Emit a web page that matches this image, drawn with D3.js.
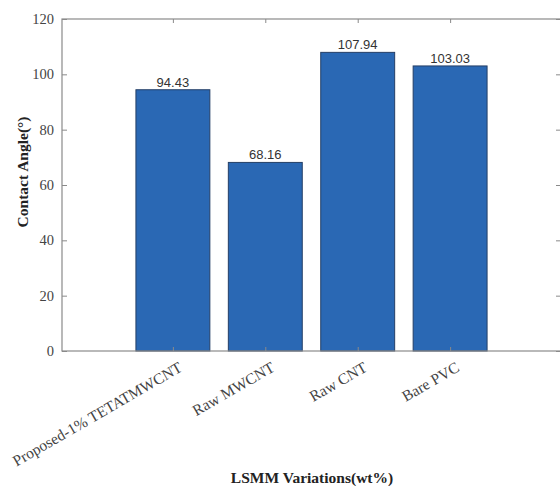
<!DOCTYPE html>
<html><head><meta charset="utf-8">
<script src="https://cdn.jsdelivr.net/npm/d3@7"></script>
<style>body{margin:0;background:#fff}svg{display:block}</style>
</head><body>
<svg id="c" width="560" height="486"></svg>
<script>
const categories = ["Proposed-1% TETATMWCNT", "Raw MWCNT", "Raw CNT", "Bare PVC"];
const values = [94.43, 68.16, 107.94, 103.03];
const valueLabels = ["94.43", "68.16", "107.94", "103.03"];
const yTicks = [0, 20, 40, 60, 80, 100, 120];

const svg = d3.select("#c");
const L = 62, R = 561, T = 19, B = 351;
const x = d3.scaleLinear().domain([-0.2, 5.2]).range([L, R]);
const y = d3.scaleLinear().domain([0, 120]).range([B, T]);
const bw = x(0.8) - x(0);
const axisColor = "#8a8a8a";

// bars
svg.append("g").selectAll("rect").data(values).join("rect")
  .attr("x", (d, i) => x(i + 1) - bw / 2)
  .attr("y", d => y(d))
  .attr("width", bw)
  .attr("height", d => y(0) - y(d))
  .attr("fill", "#2a68b4")
  .attr("stroke", "#243f66")
  .attr("stroke-width", 1);

// value labels
svg.append("g").selectAll("text").data(values).join("text")
  .attr("x", (d, i) => x(i + 1))
  .attr("y", d => y(d) - 3)
  .attr("text-anchor", "middle")
  .attr("font-family", "Liberation Sans, Arial, sans-serif")
  .attr("font-size", 13)
  .attr("fill", "#333")
  .text((d, i) => valueLabels[i]);

// box
svg.append("rect").attr("x", L).attr("y", T).attr("width", R - L).attr("height", B - T)
  .attr("fill", "none").attr("stroke", axisColor).attr("stroke-width", 1.2);

// y axis left
const yAxis = d3.axisLeft(y).tickValues(yTicks).tickSizeInner(-5).tickSizeOuter(0).tickPadding(8);
const gy = svg.append("g").attr("transform", `translate(${L},0)`).call(yAxis);
gy.select(".domain").remove();
gy.selectAll("line").attr("stroke", axisColor);
gy.selectAll("text").attr("font-family", "Liberation Serif, Times New Roman, serif")
  .attr("font-size", 14.5).attr("fill", "#444");

// y axis right ticks
const gyr = svg.append("g").attr("transform", `translate(${R},0)`)
  .call(d3.axisRight(y).tickValues(yTicks).tickSizeInner(-5).tickSizeOuter(0).tickFormat(""));
gyr.select(".domain").remove();
gyr.selectAll("line").attr("stroke", axisColor);

// x axis bottom/top ticks
const xt = categories.map((c, i) => i + 1);
const gx = svg.append("g").attr("transform", `translate(0,${B})`)
  .call(d3.axisBottom(x).tickValues(xt).tickSizeInner(-4).tickSizeOuter(0).tickFormat(""));
gx.select(".domain").remove();
gx.selectAll("line").attr("stroke", axisColor);
const gxt = svg.append("g").attr("transform", `translate(0,${T})`)
  .call(d3.axisTop(x).tickValues(xt).tickSizeInner(-4).tickSizeOuter(0).tickFormat(""));
gxt.select(".domain").remove();
gxt.selectAll("line").attr("stroke", axisColor);

// rotated category labels
svg.append("g").selectAll("text").data(categories).join("text")
  .attr("transform", (d, i) => `translate(${x(i + 1) + 5},${B + 10}) rotate(-30)`)
  .attr("text-anchor", "end")
  .attr("dy", "0.7em")
  .attr("font-family", "Liberation Serif, Times New Roman, serif")
  .attr("font-size", 15.5)
  .attr("fill", "#444")
  .text(d => d);

// axis titles
svg.append("text")
  .attr("transform", `translate(28,172) rotate(-90)`)
  .attr("text-anchor", "middle")
  .attr("font-family", "Liberation Serif, Times New Roman, serif")
  .attr("font-weight", "bold").attr("font-size", 15.5).attr("fill", "#222")
  .text("Contact Angle(°)");
svg.append("text")
  .attr("x", 312).attr("y", 483)
  .attr("text-anchor", "middle")
  .attr("font-family", "Liberation Serif, Times New Roman, serif")
  .attr("font-weight", "bold").attr("font-size", 15.5).attr("fill", "#222")
  .text("LSMM Variations(wt%)");
</script>
</body></html>
